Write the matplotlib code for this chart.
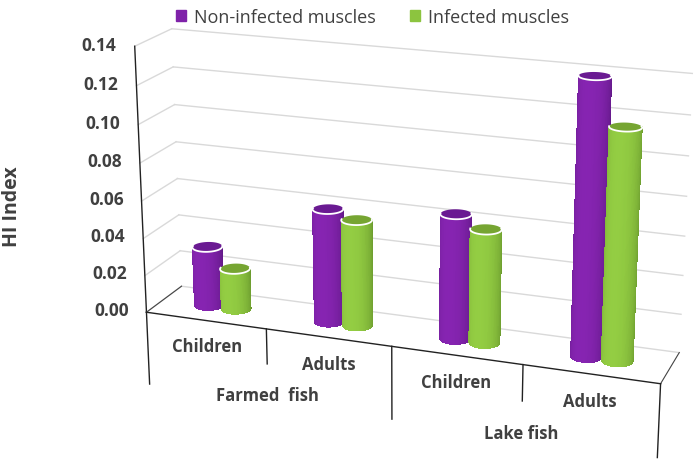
import numpy as np
import matplotlib
matplotlib.use('Agg')
import matplotlib.pyplot as plt
from matplotlib.patches import Patch
from mpl_toolkits.mplot3d import proj3d
from mpl_toolkits.mplot3d.art3d import Poly3DCollection

plt.rcParams['font.family'] = ['Open Sans', 'DejaVu Sans']

# data
groups = ['Farmed  fish', 'Lake fish']
subgroups = ['Children', 'Adults', 'Children', 'Adults']
series = ['Non-infected muscles', 'Infected muscles']
non_infected = [0.032, 0.060, 0.065, 0.140]
infected = [0.022, 0.056, 0.059, 0.117]
yticks = [0.00, 0.02, 0.04, 0.06, 0.08, 0.10, 0.12, 0.14]

colors = ['#7f22a9', '#8cc43f']
cap_colors = ['#6a1a92', '#76a532']
dark_colors = ['#4e1270', '#5a8525']
text_col = '#404040'
grid_col = '#d9d9d9'

# world scale (box aspect) so cylinders stay round
box = (545, 82, 284)
zmax = 0.14
sx = box[0] / 4.0
sy = box[1] / 1.0
radius = 15.5
rx, ry = radius / sx, radius / sy
elev, azim = 18, -70

fig = plt.figure(figsize=(6.99, 4.64), dpi=100)
# square axes (mplot3d keeps it square), wide enough not to clip the walls
side = 600
cx0, cy0 = 0.569, 0.552
w, h = side / 699, side / 464
ax = fig.add_axes([cx0 - w / 2, cy0 - h / 2, w, h], projection='3d',
                  computed_zorder=False)
ax.set_proj_type('persp', focal_length=0.6)
ax.view_init(elev=elev, azim=azim)
ax.set_xlim(0, 4)
ax.set_ylim(0, 1)
ax.set_zlim(0, zmax)
norm_fix = np.linalg.norm(box) / np.linalg.norm((588, 82, 284))
ax.set_box_aspect(box, zoom=1.388 * 464 / side * norm_fix)
ax.set_axis_off()

# walls: gridlines on back and left wall
for v in yticks:
    ax.plot([0, 4], [1, 1], [v, v], color=grid_col, lw=1, zorder=1)
    ax.plot([0, 0], [0, 1], [v, v], color=grid_col, lw=1, zorder=1)
ax.plot([0, 0], [0, 0], [0, zmax], color='#222222', lw=1, zorder=1)
ax.plot([0, 4], [0, 0], [0, 0], color='#222222', lw=1, zorder=1)
ax.plot([4, 4], [0, 1], [0, 0], color='#444444', lw=0.8, zorder=1)
ax.plot([0, 0], [0, 1], [0, 0], color='#444444', lw=0.8, zorder=1)

# category label separators below the floor
sep_depth = [-0.040, -0.019, -0.039, -0.019, -0.038]
for i, d in enumerate(sep_depth):
    ax.plot([i, i], [0, 0], [0, d], color='#222222', lw=1, zorder=1)

# cylinders: only the half facing the viewer
view = np.deg2rad(azim)
theta = np.linspace(view - np.deg2rad(100), view + np.deg2rad(100), 61)
ring = np.linspace(0, 2 * np.pi, 73)
light = np.deg2rad(-95)
k = 0
for i in range(4):
    for s, vals in enumerate([non_infected, infected]):
        cx = i + 0.5 + (s - 0.5) * 2 * rx
        cy = 0.5
        hgt = vals[i]
        T, Z = np.meshgrid(theta, [0, hgt])
        X = cx + rx * np.cos(T)
        Y = cy + ry * np.sin(T)
        tm = 0.5 * (theta[:-1] + theta[1:])
        shade = np.clip(0.5 + 0.5 * np.cos(tm - light), 0, 1)
        base = np.array(matplotlib.colors.to_rgb(colors[s]))
        dark = np.array(matplotlib.colors.to_rgb(dark_colors[s]))
        fc = np.clip(dark[None, :] + (base - dark)[None, :] * shade[:, None] * 1.15, 0, 1)
        fcs = np.ones((1, len(tm), 4))
        fcs[0, :, :3] = fc
        ax.plot_surface(X, Y, Z, facecolors=fcs, rstride=1, cstride=1,
                        linewidth=0, antialiased=False, shade=False, zorder=10 + k)
        top = list(zip(cx + rx * np.cos(ring), cy + ry * np.sin(ring), [hgt] * len(ring)))
        cap = Poly3DCollection([top], facecolor=cap_colors[s], edgecolor='none',
                               zorder=10 + k + 0.5)
        ax.add_collection3d(cap)
        ax.plot(cx + rx * np.cos(theta), cy + ry * np.sin(theta), [hgt] * len(theta),
                color='white', lw=1.3, zorder=10 + k + 0.6)
        k += 1

# labels: project 3D anchor points to the 2D axes coordinates
fig.canvas.draw()
M = ax.get_proj()


def label(x, y, z, s, **kw):
    px, py, _ = proj3d.proj_transform(x, y, z, M)
    ax.text2D(px, py, s, transform=ax.transData, fontweight='bold',
              color=text_col, **kw)


for v in yticks:
    label(-0.15, 0, v, f'{v:.2f}', ha='right', va='center', fontsize=12.5)
for i, lab in enumerate(subgroups):
    label(i + 0.5, 0, -0.014, lab, ha='center', va='center', fontsize=12)
for g, lab in enumerate(groups):
    label(2 * g + 1, 0, -0.036, lab, ha='center', va='center', fontsize=12)

fig.text(0.017, 0.555, 'HI Index', rotation=90, ha='center', va='center',
         fontsize=14, fontweight='bold', color=text_col)

handles = [Patch(color=c) for c in colors]
fig.legend(handles, series, loc='upper center', bbox_to_anchor=(0.533, 1.015),
           ncol=2, frameon=False, fontsize=13, handlelength=0.55,
           handleheight=0.55, columnspacing=1.9, handletextpad=0.45,
           labelcolor=text_col)

fig.savefig('out.png', dpi=100)
